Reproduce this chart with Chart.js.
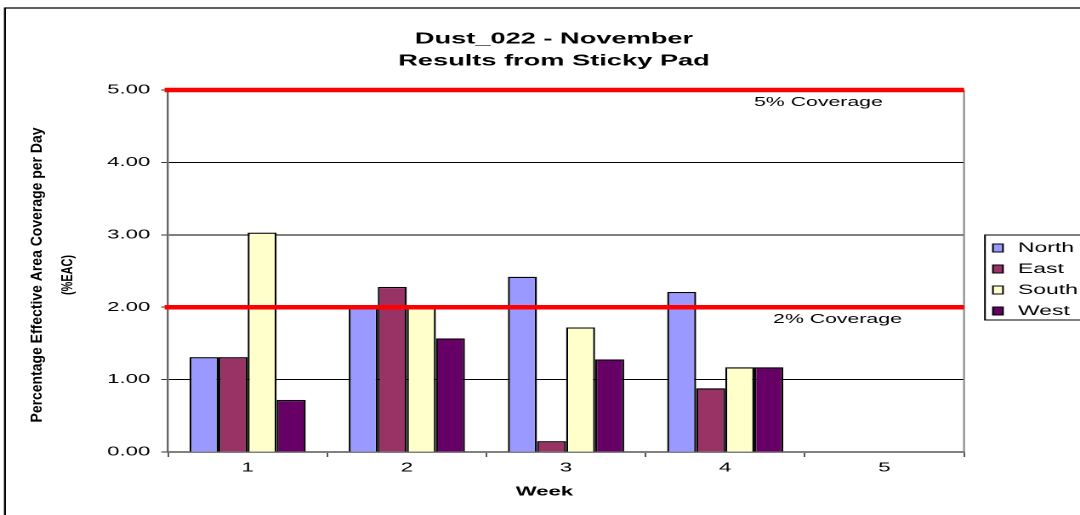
<!DOCTYPE html>
<html>
<head>
<meta charset="utf-8">
<script src="https://cdn.jsdelivr.net/npm/chart.js@4.4.1/dist/chart.umd.min.js"></script>
<style>
  html, body { margin: 0; padding: 0; background: #fff; overflow: hidden; }
  /* the original picture is stretched sideways, so draw narrow and stretch */
  #wrap { width: 635px; height: 515px; transform: scaleX(1.7008); transform-origin: 0 0; }
  canvas { display: block; }
</style>
</head>
<body>
<div id="wrap"><canvas id="chart" width="635" height="515" style="width:635px;height:515px"></canvas></div>
<script>
"use strict";

const WEEKS = ["1", "2", "3", "4", "5"];
const NORTH = [1.31, 2.00, 2.42, 2.21, null];
const EAST = [1.31, 2.28, 0.15, 0.88, null];
const SOUTH = [3.03, 2.00, 1.72, 1.17, null];
const WEST = [0.72, 1.57, 1.28, 1.17, null];
const SERIES_NAMES = ["North", "East", "South", "West"];
const SERIES_COLORS = ["#9999FF", "#993366", "#FFFFCC", "#660066"];
const THRESHOLDS = [5, 2];
const THRESHOLD_LABELS = ["5% Coverage", "2% Coverage"];
const TITLE_LINES = ["Dust_022 - November", "Results from Sticky Pad"];
const Y_TITLE = ["Percentage Effective Area Coverage per Day", "(%EAC)"];
const X_TITLE = "Week";

const FONT = "'Liberation Sans', Arial, sans-serif";

// red limit lines + their captions
const thresholdPlugin = {
  id: "thresholds",
  beforeDatasetsDraw(chart) {
    const { ctx, chartArea: a } = chart;
    ctx.save();
    ctx.strokeStyle = "#808080";
    ctx.lineWidth = 1;
    ctx.beginPath();
    ctx.moveTo(a.right, a.top);
    ctx.lineTo(a.right, a.bottom);
    ctx.stroke();
    ctx.restore();
  },
  afterDatasetsDraw(chart) {
    const { ctx, chartArea: a, scales: { y } } = chart;
    const labelX = [a.right - 85.6, a.right - 74.4];
    ctx.save();
    THRESHOLDS.forEach((v, i) => {
      const py = y.getPixelForValue(v);
      ctx.strokeStyle = "#FF0000";
      ctx.lineWidth = 4.5;
      ctx.beginPath();
      ctx.moveTo(a.left - 2, py);
      ctx.lineTo(a.right, py);
      ctx.stroke();
      ctx.fillStyle = "#000";
      ctx.font = "12.5px " + FONT;
      ctx.textAlign = "center";
      ctx.textBaseline = "middle";
      ctx.fillText(THRESHOLD_LABELS[i], labelX[i], py + 12.5);
    });
    ctx.restore();
  },
};

// titles, legend box and outer frame
const decorPlugin = {
  id: "decor",
  afterDraw(chart) {
    const { ctx } = chart;
    ctx.save();
    ctx.strokeStyle = "#000";
    ctx.lineWidth = 1.2;
    ctx.beginPath();
    ctx.moveTo(2.9, 520);
    ctx.lineTo(2.9, 8);
    ctx.lineTo(640, 8);
    ctx.stroke();

    ctx.fillStyle = "#000";
    ctx.textAlign = "center";
    ctx.textBaseline = "middle";
    ctx.font = "bold 16px " + FONT;
    ctx.fillText(TITLE_LINES[0], 325.7, 39);
    ctx.fillText(TITLE_LINES[1], 325.7, 61);

    ctx.font = "bold 13px " + FONT;
    ctx.fillText(X_TITLE, 320.1, 492);

    // rotated y title, squeezed like the original
    const yLines = [[22, 295], [40, 40]];
    Y_TITLE.forEach((t, i) => {
      ctx.save();
      ctx.translate(yLines[i][0], 275);
      ctx.rotate(-Math.PI / 2);
      ctx.scale(1, 0.55);
      ctx.font = "bold 16px " + FONT;
      ctx.fillText(t, 0, 0, yLines[i][1]);
      ctx.restore();
    });

    // legend
    ctx.lineWidth = 1;
    ctx.strokeStyle = "#000";
    ctx.strokeRect(579.1, 235, 80, 85);
    ctx.font = "13.5px " + FONT;
    ctx.textAlign = "left";
    chart.data.datasets.forEach((ds, i) => {
      const cy = 248 + i * 21;
      ctx.fillStyle = ds.backgroundColor;
      ctx.fillRect(583.8, cy - 4, 5.9, 8);
      ctx.strokeRect(583.8, cy - 4, 5.9, 8);
      ctx.fillStyle = "#000";
      ctx.fillText(ds.label, 598.5, cy + 0.5);
    });
    ctx.restore();
  },
};

const seriesData = [NORTH, EAST, SOUTH, WEST];

new Chart(document.getElementById("chart"), {
  type: "bar",
  data: {
    labels: WEEKS,
    datasets: seriesData.map((d, i) => ({
      label: SERIES_NAMES[i],
      data: d,
      backgroundColor: SERIES_COLORS[i],
      borderColor: "#000",
      borderWidth: 1.2,
      categoryPercentage: 0.73,
      barPercentage: 1.0,
    })),
  },
  options: {
    responsive: false,
    animation: false,
    devicePixelRatio: 2,
    layout: { padding: { top: 90, right: 68.2, bottom: 0, left: 0 } },
    plugins: { legend: { display: false }, title: { display: false }, tooltip: { enabled: false } },
    scales: {
      x: {
        afterFit(s) { s.height = 63; },
        grid: { drawOnChartArea: false, drawTicks: true, tickLength: 5, tickColor: "#555", offset: true },
        border: { color: "#808080", width: 2 },
        ticks: { color: "#000", padding: 3, font: { family: FONT, size: 13 } },
      },
      y: {
        min: 0, max: 5,
        afterFit(s) { s.width = 98.8; },
        grid: { color: "#000", lineWidth: 1, tickLength: 4, tickColor: "#333" },
        border: { color: "#666", width: 1.2 },
        ticks: {
          stepSize: 1, color: "#000", padding: 6.5,
          font: { family: FONT, size: 13 },
          callback: v => Number(v).toFixed(2),
        },
      },
    },
  },
  plugins: [thresholdPlugin, decorPlugin],
});
</script>
</body>
</html>
